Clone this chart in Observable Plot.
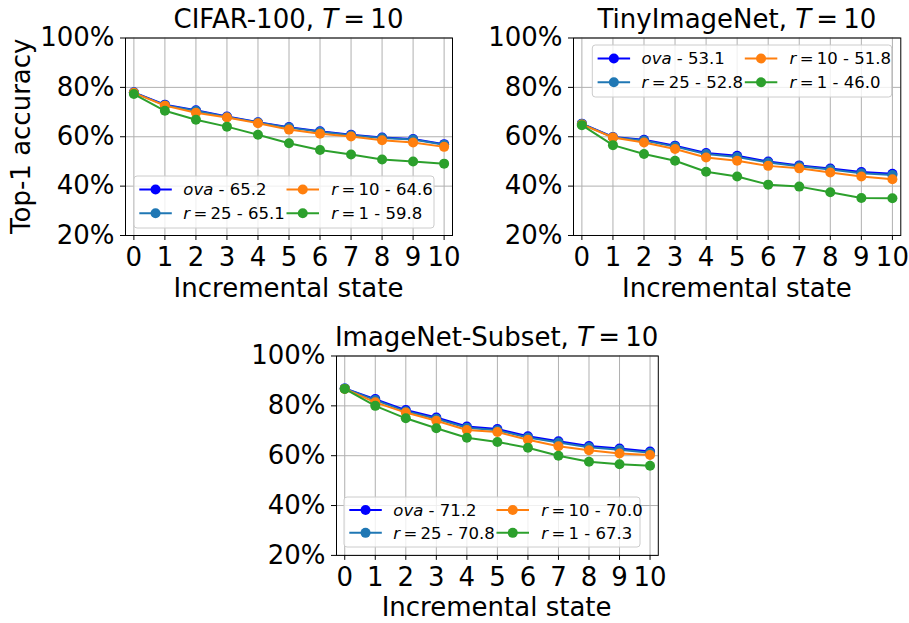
<!DOCTYPE html>
<html>
<head>
<meta charset="utf-8">
<script src="https://cdn.jsdelivr.net/npm/d3@7"></script>
<script src="https://cdn.jsdelivr.net/npm/@observablehq/plot@0.6"></script>
<style>
  html, body { margin: 0; padding: 0; background: white; }
  #wrap { position: relative; width: 909px; height: 623px; overflow: hidden; font-family: "DejaVu Sans", sans-serif; }
  #wrap > svg.plotsvg { position: absolute; }
  #overlay { position: absolute; left: 0; top: 0; pointer-events: none; }
</style>
</head>
<body>
<div id="wrap"></div>
<script>
// ---------- data ----------
const states = [0, 1, 2, 3, 4, 5, 6, 7, 8, 9, 10];
const yTicks = [20, 40, 60, 80, 100];
const seriesKeys = ["ova", "r25", "r10", "r1"];
const seriesColors = ["#0000ff", "#1f77b4", "#ff7f0e", "#2ca02c"];

// CIFAR-100, T=10
const cifarOva = [78.0, 73.0, 70.7, 68.2, 65.9, 63.9, 62.2, 60.8, 59.7, 59.1, 57.0];
const cifarR25 = [77.9, 72.8, 70.5, 68.0, 65.8, 63.7, 62.0, 60.6, 59.5, 58.9, 56.8];
const cifarR10 = [77.8, 72.6, 69.7, 67.8, 65.5, 62.9, 61.2, 60.1, 58.6, 57.7, 55.9];
const cifarR1  = [77.3, 70.5, 66.9, 64.1, 60.8, 57.4, 54.6, 52.8, 50.8, 50.0, 49.1];
const cifarAvg = ["65.2", "65.1", "64.6", "59.8"];

// TinyImageNet, T=10
const tinyOva = [65.3, 59.9, 58.8, 56.4, 53.4, 52.3, 50.0, 48.4, 47.1, 45.7, 45.0];
const tinyR25 = [65.2, 59.8, 58.5, 56.0, 53.0, 51.8, 49.6, 48.0, 46.7, 45.2, 44.5];
const tinyR10 = [65.0, 59.7, 57.7, 55.0, 51.6, 50.3, 48.2, 47.2, 45.5, 43.9, 42.8];
const tinyR1  = [64.7, 56.6, 53.0, 50.3, 45.8, 43.9, 40.6, 39.8, 37.5, 35.2, 35.1];
const tinyAvg = ["53.1", "52.8", "51.8", "46.0"];

// ImageNet-Subset, T=10
const subOva = [87.0, 82.7, 78.3, 75.3, 71.7, 70.7, 67.8, 65.8, 63.9, 62.9, 61.7];
const subR25 = [87.0, 82.3, 77.8, 74.8, 71.2, 70.2, 67.3, 65.3, 63.4, 62.4, 61.2];
const subR10 = [86.8, 81.4, 77.3, 74.0, 70.3, 69.5, 66.4, 63.8, 62.2, 60.9, 60.3];
const subR1  = [86.8, 80.0, 75.0, 71.0, 67.2, 65.5, 63.2, 60.0, 57.6, 56.6, 56.0];
const subAvg = ["71.2", "70.8", "70.0", "67.3"];

const titles = ["CIFAR-100", "TinyImageNet", "ImageNet-Subset"];
const xLabel = "Incremental state";
const yLabel = "Top-1 accuracy";

// ---------- layout ----------
const FONT = "DejaVu Sans";
const FS = 26;
const LFS = 16.5;
const panels = [
  {title: titles[0], series: [cifarOva, cifarR25, cifarR10, cifarR1], avg: cifarAvg,
   fx0: 125, fx1: 452, fy0: 37.5, fy1: 235, ylabel: true, legend: {x: 134, y: 176, w: 300, h: 52}},
  {title: titles[1], series: [tinyOva, tinyR25, tinyR10, tinyR1], avg: tinyAvg,
   fx0: 573.3, fx1: 900.6, fy0: 37.5, fy1: 235, ylabel: false, legend: {x: 592.3, y: 45, w: 299.4, h: 52}},
  {title: titles[2], series: [subOva, subR25, subR10, subR1], avg: subAvg,
   fx0: 335.7, fx1: 657.5, fy0: 355, fy1: 554.4, ylabel: false, legend: {x: 344, y: 497, w: 296, h: 50}}
];

const wrap = document.getElementById("wrap");
const ML = 125, MR = 8, MT = 37.5, MB = 66;

panels.forEach(p => {
  const fw = p.fx1 - p.fx0, fh = p.fy1 - p.fy0;
  const pad = 0.27;
  const marks = [
    Plot.gridX(states, {stroke: "#b0b0b0", strokeOpacity: 1, strokeWidth: 1}),
    Plot.gridY(yTicks, {stroke: "#b0b0b0", strokeOpacity: 1, strokeWidth: 1}),
    Plot.axisX(states, {tickSize: 5, tickPadding: 7, fontSize: FS, fill: "black", stroke: "black", label: null}),
    Plot.axisY(yTicks, {tickSize: 5, tickPadding: 6, fontSize: FS, fill: "black", stroke: "black", label: null, tickFormat: d => d + "%"}),
    Plot.frame({stroke: "black", strokeWidth: 1})
  ];
  p.series.forEach((vals, i) => {
    const data = states.map((s, j) => ({state: s, acc: vals[j]}));
    marks.push(Plot.line(data, {x: "state", y: "acc", stroke: seriesColors[i], strokeWidth: 2}));
    marks.push(Plot.dot(data, {x: "state", y: "acc", fill: seriesColors[i], stroke: "none", r: 5}));
  });
  const svg = Plot.plot({
    width: ML + fw + MR,
    height: MT + fh + MB,
    marginLeft: ML, marginRight: MR, marginTop: MT, marginBottom: MB,
    x: {domain: [-pad, 10 + pad]},
    y: {domain: [20, 100]},
    style: {background: "transparent", overflow: "visible", fontFamily: FONT, color: "black"},
    marks
  });
  svg.classList.add("plotsvg");
  svg.style.left = (p.fx0 - ML) + "px";
  svg.style.top = (p.fy0 - MT) + "px";
  svg.style.maxWidth = "none";
  wrap.appendChild(svg);
});

// ---------- overlay: titles, axis labels, legends ----------
const ov = d3.select(wrap).append("svg").attr("id", "overlay")
  .attr("width", 909).attr("height", 623)
  .style("font-family", FONT);

panels.forEach(p => {
  const cx = (p.fx0 + p.fx1) / 2;
  const t = ov.append("text").attr("x", cx).attr("y", p.fy0 - 9.2)
    .attr("text-anchor", "middle").attr("font-size", FS).attr("fill", "black");
  t.append("tspan").text(p.title + ", ");
  t.append("tspan").attr("font-style", "italic").text("T");
  t.append("tspan").text("\u2009=\u200910");

  ov.append("text").attr("x", cx).attr("y", p.fy1 + 61.7)
    .attr("text-anchor", "middle").attr("font-size", FS).attr("fill", "black").text(xLabel);

  if (p.ylabel) {
    const cy = (p.fy0 + p.fy1) / 2;
    ov.append("text").attr("transform", `translate(29.5,${cy}) rotate(-90)`)
      .attr("text-anchor", "middle").attr("font-size", FS).attr("fill", "black").text(yLabel);
  }

  // legend
  const L = p.legend;
  const g = ov.append("g").attr("transform", `translate(${L.x},${L.y})`);
  g.append("rect").attr("x", 0).attr("y", 0).attr("width", L.w).attr("height", L.h)
    .attr("rx", 3).attr("fill", "white").attr("fill-opacity", 0.8)
    .attr("stroke", "#cccccc").attr("stroke-width", 1);
  const entries = [
    {i: 0, col: 0, row: 0, lab: "ova"},
    {i: 1, col: 0, row: 1, lab: "r", num: "25"},
    {i: 2, col: 1, row: 0, lab: "r", num: "10"},
    {i: 3, col: 1, row: 1, lab: "r", num: "1"}
  ];
  const rowY = [13.5, 37.3];
  const hx = [5.3, 152.5], tx = [49.3, 197.3];
  entries.forEach(e => {
    const y = rowY[e.row] * (L.h / 52);
    const x0 = hx[e.col];
    g.append("line").attr("x1", x0).attr("x2", x0 + 32.5).attr("y1", y).attr("y2", y)
      .attr("stroke", seriesColors[e.i]).attr("stroke-width", 2);
    g.append("circle").attr("cx", x0 + 16.25).attr("cy", y).attr("r", 5).attr("fill", seriesColors[e.i]);
    const tt = g.append("text").attr("x", tx[e.col]).attr("y", y).attr("dy", "0.36em")
      .attr("font-size", LFS).attr("fill", "black");
    if (e.lab === "ova") {
      tt.append("tspan").attr("font-style", "italic").text("ova");
      tt.append("tspan").text(" - " + p.avg[e.i]);
    } else {
      tt.append("tspan").attr("font-style", "italic").text("r");
      tt.append("tspan").text("\u2009=\u2009" + e.num + " - " + p.avg[e.i]);
    }
  });
});
</script>
</body>
</html>
